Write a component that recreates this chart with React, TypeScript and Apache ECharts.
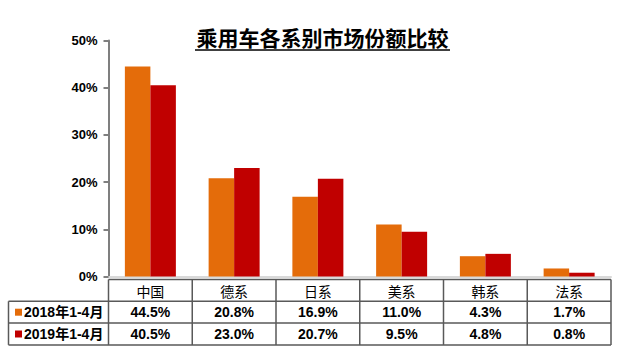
import React, { useEffect, useRef } from "react";
import * as echarts from "echarts";

const categories = ["中国", "德系", "日系", "美系", "韩系", "法系"];
const seriesNames = ["2018年1-4月", "2019年1-4月"];
const values2018 = [44.5, 20.8, 16.9, 11.0, 4.3, 1.7];
const values2019 = [40.5, 23.0, 20.7, 9.5, 4.8, 0.8];
const seriesColors = ["#E46C0A", "#C00000"];
const titleText = "乘用车各系别市场份额比较";

const FONT = "'Liberation Sans', 'Noto Sans CJK SC', sans-serif";

export default function App() {
  const ref = useRef<HTMLDivElement>(null);
  useEffect(() => {
    document.body.style.margin = "0";
    if (!ref.current) return;
    const chart = echarts.init(ref.current, null, { renderer: "svg" });

    const W = 640;
    const gridLeft = 108.5;
    const gridRight = 29;
    const gridTop = 40.5;
    const gridBottom = 87.5;
    const plotW = W - gridLeft - gridRight;
    const colW = plotW / categories.length;
    const tableTop = 279.5;
    const rowH = 21.8;
    const tableLeft = 8.5;
    const tableRight = gridLeft + plotW;
    const lineColor = "#595959";

    const graphics: any[] = [];
    // title
    graphics.push({
      type: "text",
      x: 322.5,
      y: 38,
      silent: true,
      style: {
        text: titleText,
        font: `bold 21px ${FONT}`,
        fill: "#000",
        align: "center",
        verticalAlign: "middle",
      },
    });
    graphics.push({
      type: "line",
      silent: true,
      shape: { x1: 195, y1: 50, x2: 450, y2: 50 },
      style: { stroke: "#404040", lineWidth: 2 },
    });
    // table horizontal lines
    const hLines = [
      [gridLeft, tableTop],
      [tableLeft, tableTop + rowH],
      [tableLeft, tableTop + rowH * 2],
      [tableLeft, tableTop + rowH * 3],
    ];
    hLines.forEach(([x1, y]) => {
      graphics.push({
        type: "line",
        silent: true,
        shape: { x1, y1: y, x2: tableRight, y2: y },
        style: { stroke: lineColor, lineWidth: 1.5 },
      });
    });
    // left column border
    graphics.push({
      type: "line",
      silent: true,
      shape: { x1: tableLeft, y1: tableTop + rowH, x2: tableLeft, y2: tableTop + rowH * 3 },
      style: { stroke: lineColor, lineWidth: 1.5 },
    });
    for (let i = 0; i <= categories.length; i++) {
      const x = gridLeft + i * colW;
      graphics.push({
        type: "line",
        silent: true,
        shape: { x1: x, y1: tableTop, x2: x, y2: tableTop + rowH * 3 },
        style: { stroke: lineColor, lineWidth: 1.5 },
      });
    }
    const rows = [values2018, values2019];
    rows.forEach((vals, r) => {
      const cy = tableTop + rowH * (r + 1) + rowH / 2;
      graphics.push({
        type: "rect",
        silent: true,
        shape: { x: 15, y: cy - 3.5, width: 7, height: 7 },
        style: { fill: seriesColors[r] },
      });
      graphics.push({
        type: "text",
        silent: true,
        x: 24,
        y: cy,
        style: {
          text: seriesNames[r],
          font: `bold 14px ${FONT}`,
          fill: "#000",
          align: "left",
          verticalAlign: "middle",
        },
      });
      vals.forEach((v, i) => {
        graphics.push({
          type: "text",
          silent: true,
          x: gridLeft + (i + 0.5) * colW,
          y: cy,
          style: {
            text: v.toFixed(1) + "%",
            font: `bold 14px ${FONT}`,
            fill: "#000",
            align: "center",
            verticalAlign: "middle",
          },
        });
      });
    });

    chart.setOption({
      animation: false,
      backgroundColor: "#fff",
      textStyle: { fontFamily: FONT },
      grid: { left: gridLeft, right: gridRight, top: gridTop, bottom: gridBottom, containLabel: false },
      xAxis: {
        type: "category",
        data: categories,
        axisLine: { show: true, lineStyle: { color: "#d9d9d9", width: 2 } },
        axisTick: { show: false },
        axisLabel: { fontSize: 14, color: "#000", margin: 8, fontFamily: FONT },
      },
      yAxis: {
        type: "value",
        min: 0,
        max: 50,
        interval: 10,
        splitLine: { show: false },
        axisLine: { show: true, lineStyle: { color: "#7f7f7f", width: 2 } },
        axisTick: { show: true, length: 5, lineStyle: { color: "#7f7f7f", width: 2 } },
        axisLabel: {
          formatter: "{value}%",
          fontSize: 13,
          fontWeight: "bold",
          color: "#000",
          margin: 11,
          fontFamily: FONT,
        },
      },
      series: [
        {
          name: seriesNames[0],
          type: "bar",
          data: values2018,
          barWidth: 25.5,
          barGap: "0%",
          itemStyle: { color: seriesColors[0] },
        },
        {
          name: seriesNames[1],
          type: "bar",
          data: values2019,
          barWidth: 25.5,
          barGap: "0%",
          itemStyle: { color: seriesColors[1] },
        },
      ],
      graphic: graphics,
    });
    return () => chart.dispose();
  }, []);
  return <div ref={ref} style={{ width: 640, height: 364 }} />;
}
